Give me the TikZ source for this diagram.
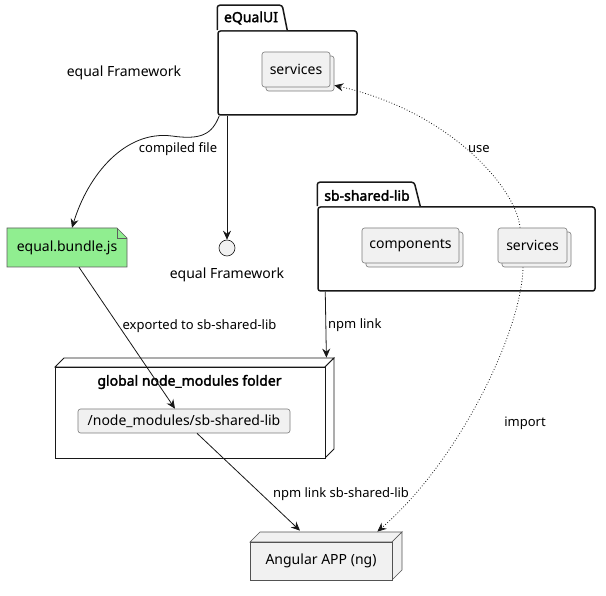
\documentclass[tikz,border=0pt]{standalone}
\usepackage{fontspec}
\setmainfont{Noto Sans}[AutoFakeBold=2.2]
\usetikzlibrary{arrows.meta,calc,shadows}
\definecolor{boxfill}{HTML}{F1F1F1}
\definecolor{edge}{HTML}{181818}
\definecolor{notefill}{HTML}{90EE90}
\definecolor{compedge}{HTML}{7A7A7A}
\tikzset{
  txt/.style={font=\fontsize{14}{16}\selectfont},
  btxt/.style={font=\fontsize{14}{16}\selectfont\bfseries},
  lbl/.style={font=\fontsize{13}{15}\selectfont, inner sep=0pt},
  pkgline/.style={draw=edge, line width=1.5pt, fill=white, rounded corners=2.5pt},
  pkgbody/.style={pkgline, inner sep=0pt},
  comp/.style={draw=compedge, line width=0.6pt, fill=boxfill, rounded corners=2.5pt, inner sep=0pt, txt},
  stack/.style={comp, copy shadow={shadow xshift=4pt, shadow yshift=-4pt}},
  conn/.style={draw=edge, line width=0.8pt, -{Stealth[length=9pt,width=8pt,inset=3pt]}},
  dotconn/.style={conn, dotted},
  boxside/.style={draw=#1, line width=0.7pt, fill=boxfill},
}
\begin{document}
\begin{tikzpicture}[x=1pt,y=-1pt]
\useasboundingbox (0,0) rectangle (606,596);

% ---- eQualUI package
\node[pkgbody, minimum width=139pt, minimum height=84pt] (equi) at (287.5,73) {};
\draw[pkgline, fill=white] (equi.north west) -- ++(0,-25) -- ++(65,0) -- ++(5,25);
\node[btxt, inner sep=0pt] (equit) at (251,18) {eQualUI};
\node[stack, minimum width=68pt, minimum height=35pt] (eqsvc) at (296,69.5) {services};

% ---- free label
\node[txt, inner sep=0pt] (eqfw) at (124,73) {equal Framework};

% ---- sb-shared-lib package
\node[pkgbody, minimum width=277pt, minimum height=84pt] (sbl) at (456.5,249) {};
\draw[pkgline, fill=white] (sbl.north west) -- ++(0,-24) -- ++(97,0) -- ++(6,24);
\node[btxt, inner sep=0pt] (sblt) at (367,195.5) {sb-shared-lib};
\node[stack, minimum width=97pt, minimum height=35pt] (sbcomp) at (410.5,245.5) {components};
\node[stack, minimum width=69pt, minimum height=35pt] (sbsvc) at (532.5,245.5) {services};

% ---- note
\draw[draw=edge!70, line width=0.6pt, fill=notefill] (7,228) -- (117,228) -- (127,238) -- (127,267) -- (7,267) -- cycle;
\draw[draw=edge!70, line width=0.6pt] (117,228) -- (117,238) -- (127,238);
\node[txt, minimum width=120pt, minimum height=39pt, inner sep=0pt] (bundle) at (67,247.5) {equal.bundle.js};

% ---- interface
\node[circle, draw=edge, line width=0.6pt, fill=boxfill, minimum size=16pt, inner sep=0pt] (iface) at (227,248) {};
\node[txt, inner sep=0pt] (ifacel) at (227,275) {equal Framework};

% ---- global node_modules folder (3D node)
\draw[draw=edge, fill=white, line width=0.8pt] (55,367) -- (64,358) -- (334,358) -- (325,367) -- cycle;
\draw[draw=edge, fill=white, line width=0.8pt] (325,367) -- (334,358) -- (334,449) -- (325,458) -- cycle;
\node[draw=edge, line width=0.8pt, fill=white, minimum width=270pt, minimum height=91pt, inner sep=0pt] (nm) at (190,412.5) {};
\node[btxt, inner sep=0pt] (nmt) at (189.5,382) {global node\_modules folder};
\node[comp, minimum width=212pt, minimum height=24pt] (nmlib) at (184,421) {/node\_modules/sb-shared-lib};

% ---- Angular APP
\draw[boxside=edge!75] (250,542) -- (260,532) -- (402,532) -- (392,542) -- cycle;
\draw[boxside=edge!75] (392,542) -- (402,532) -- (402,570) -- (392,580) -- cycle;
\node[draw=edge!75, line width=0.7pt, fill=boxfill, minimum width=142pt, minimum height=38pt, inner sep=0pt, txt] (ng) at (321,561) {Angular APP (ng)};

% ---- connectors
\draw[conn] ([xshift=2pt]equi.south west) .. controls (212,135) and (200,140) .. (172,136)
   .. controls (125,130) and (88,175) .. ([xshift=5pt]bundle.north);
\node[lbl] (l1) at (178,149) {compiled file};

\draw[conn] (iface.north |- equi.south) -- (iface.north);

\draw[dotconn] ([xshift=-12.5pt]sbsvc.north) .. controls (517,190) and (452,112) .. ([xshift=4pt,yshift=2pt]eqsvc.south east);
\node[lbl] (l2) at (479,149) {use};

\draw[dotconn] ([xshift=-9.5pt,yshift=-4pt]sbsvc.south) .. controls (522,330) and (460,460) .. ([xshift=-15pt,yshift=10pt]ng.north east);
\node[lbl] (l3) at (525,423) {import};

\draw[conn] ([xshift=8pt]sbl.south west) -- ([xshift=1pt,yshift=9pt]nm.north east);
\node[lbl, anchor=west] (l4) at (328,325) {npm link};

\draw[conn] ([xshift=12pt]bundle.south) -- ([xshift=-9pt]nmlib.north);
\node[lbl] (l5) at (199.5,326) {exported to sb-shared-lib};

\draw[conn] ([xshift=13pt]nmlib.south) -- ([xshift=-21pt,yshift=11pt]ng.north);
\node[lbl] (l6) at (341,494) {npm link sb-shared-lib};
\end{tikzpicture}
\end{document}
